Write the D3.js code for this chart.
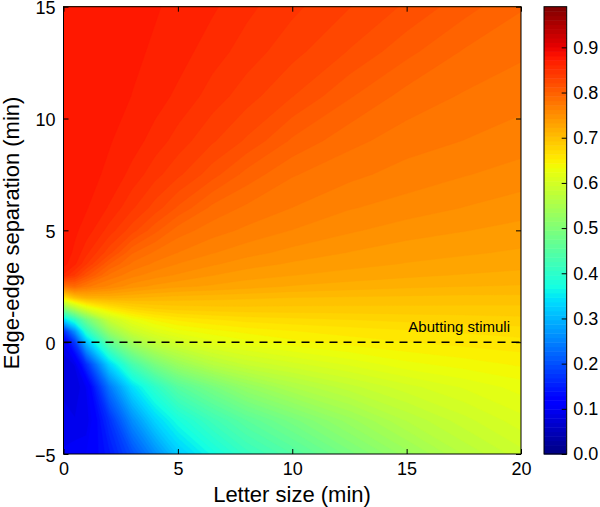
<!DOCTYPE html>
<html>
<head>
<meta charset="utf-8">
<script src="https://cdn.jsdelivr.net/npm/d3@7"></script>
<style>
  body { margin: 0; background: #fff; }
  text { font-family: "Liberation Sans", Arial, sans-serif; fill: #000; }
</style>
</head>
<body>
<div id="chart"></div>
<script>
// grid positions where the field was read (min)
var letterSize = [0, 0.5, 1, 2, 3, 4, 5, 6.5, 8, 10, 12.5, 15, 17.5, 20];
var separation = [-5, -3.5, -2, -1, 0, 0.5, 1, 1.5, 2, 2.5, 3, 3.5, 4, 5, 6, 7.5, 9, 11, 13, 15];

// values, one row per separation (bottom row first)
var values = [
  [0.10, 0.105, 0.11, 0.145, 0.20, 0.26, 0.32, 0.37, 0.41, 0.445, 0.49, 0.53, 0.565, 0.59],      // -5
  [0.095, 0.09, 0.09, 0.17, 0.26, 0.33, 0.375, 0.42, 0.455, 0.49, 0.53, 0.565, 0.59, 0.61],     // -3.5
  [0.085, 0.08, 0.10, 0.24, 0.34, 0.40, 0.45, 0.49, 0.525, 0.555, 0.58, 0.60, 0.615, 0.628],    // -2
  [0.08, 0.09, 0.17, 0.33, 0.43, 0.49, 0.53, 0.565, 0.585, 0.60, 0.615, 0.63, 0.638, 0.645],    // -1
  [0.10, 0.18, 0.31, 0.46, 0.54, 0.58, 0.60, 0.62, 0.63, 0.64, 0.648, 0.653, 0.657, 0.66],      // 0
  [0.17, 0.27, 0.40, 0.53, 0.59, 0.615, 0.63, 0.64, 0.647, 0.653, 0.658, 0.662, 0.665, 0.668],  // 0.5
  [0.33, 0.40, 0.48, 0.585, 0.625, 0.645, 0.655, 0.662, 0.667, 0.67, 0.673, 0.676, 0.678, 0.68],// 1
  [0.50, 0.56, 0.61, 0.655, 0.675, 0.683, 0.687, 0.689, 0.69, 0.69, 0.69, 0.69, 0.69, 0.69],    // 1.5
  [0.66, 0.70, 0.715, 0.717, 0.714, 0.711, 0.709, 0.707, 0.705, 0.703, 0.702, 0.701, 0.70, 0.70],// 2
  [0.78, 0.79, 0.775, 0.76, 0.747, 0.74, 0.735, 0.731, 0.727, 0.722, 0.718, 0.715, 0.713, 0.712],// 2.5
  [0.86, 0.84, 0.815, 0.78, 0.766, 0.757, 0.751, 0.743, 0.737, 0.733, 0.729, 0.725, 0.722, 0.719],// 3
  [0.875, 0.863, 0.842, 0.802, 0.78, 0.77, 0.762, 0.754, 0.747, 0.741, 0.736, 0.732, 0.729, 0.727],// 3.5
  [0.877, 0.869, 0.854, 0.825, 0.793, 0.78, 0.772, 0.763, 0.756, 0.749, 0.742, 0.737, 0.734, 0.731],// 4
  [0.878, 0.873, 0.867, 0.847, 0.826, 0.805, 0.787, 0.777, 0.77, 0.762, 0.754, 0.747, 0.743, 0.739],// 5
  [0.878, 0.876, 0.872, 0.86, 0.843, 0.827, 0.81, 0.789, 0.78, 0.772, 0.763, 0.758, 0.752, 0.747], // 6
  [0.879, 0.877, 0.875, 0.869, 0.858, 0.845, 0.834, 0.816, 0.798, 0.783, 0.775, 0.768, 0.763, 0.758],// 7.5
  [0.88, 0.878, 0.876, 0.872, 0.866, 0.857, 0.847, 0.833, 0.82, 0.80, 0.785, 0.777, 0.772, 0.767],  // 9
  [0.88, 0.878, 0.877, 0.875, 0.871, 0.866, 0.859, 0.847, 0.836, 0.822, 0.803, 0.788, 0.781, 0.776],// 11
  [0.88, 0.879, 0.878, 0.876, 0.873, 0.87, 0.866, 0.856, 0.847, 0.835, 0.821, 0.805, 0.791, 0.784], // 13
  [0.88, 0.879, 0.879, 0.877, 0.875, 0.872, 0.869, 0.863, 0.854, 0.844, 0.832, 0.82, 0.806, 0.793]  // 15
];

var xTicks = [0, 5, 10, 15, 20];
var yTicks = [-5, 0, 5, 10, 15];
var cbTicks = [0, 0.1, 0.2, 0.3, 0.4, 0.5, 0.6, 0.7, 0.8, 0.9];
var cbMax = 0.99;
var nLevels = 100;

var width = 600, height = 507;
var svg = d3.select("#chart").append("svg")
  .attr("width", width)
  .attr("height", height);

var x = d3.scaleLinear().domain([0, 20]).range([63.5, 521]);
var y = d3.scaleLinear().domain([-5, 15]).range([454, 6.7]);

// matplotlib "jet"
var jetR = d3.scaleLinear().domain([0, 0.35, 0.66, 0.89, 1]).range([0, 0, 1, 1, 0.5]).clamp(true);
var jetG = d3.scaleLinear().domain([0, 0.125, 0.375, 0.64, 0.91, 1]).range([0, 0, 1, 1, 0, 0]).clamp(true);
var jetB = d3.scaleLinear().domain([0, 0.11, 0.34, 0.65, 1]).range([0.5, 1, 1, 0, 0]).clamp(true);
function jet(t) { return d3.rgb(255 * jetR(t), 255 * jetG(t), 255 * jetB(t)).toString(); }

var levels = d3.range(nLevels + 1).map(function (i) { return cbMax * i / nLevels; });
function bandColor(i) { return jet((levels[i] + levels[i + 1]) / 2 / cbMax); }

// filled contours on the (non uniform) grid
var nx = letterSize.length, ny = separation.length;
var flat = [];
values.forEach(function (row) { row.forEach(function (v) { flat.push(v); }); });

var gx = d3.scaleLinear().domain(letterSize.map(function (d, i) { return i + 0.5; })).range(letterSize).clamp(true);
var gy = d3.scaleLinear().domain(separation.map(function (d, i) { return i + 0.5; })).range(separation).clamp(true);

var path = d3.geoPath(d3.geoTransform({
  point: function (px, py) { this.stream.point(x(gx(px)), y(gy(py))); }
}));

var contours = d3.contours().size([nx, ny]).thresholds(levels.slice(0, nLevels))(flat);

svg.append("clipPath").attr("id", "plotclip")
  .append("rect")
  .attr("x", x(0)).attr("y", y(15))
  .attr("width", x(20) - x(0)).attr("height", y(-5) - y(15));

var plot = svg.append("g").attr("clip-path", "url(#plotclip)");
plot.selectAll("path.band")
  .data(contours)
  .enter()
  .append("path")
  .attr("class", "band")
  .attr("d", path)
  .attr("fill", function (d, i) { return bandColor(i); })
  .attr("stroke", function (d, i) { return bandColor(i); })
  .attr("stroke-width", 0.4);

// abutting line
svg.append("line")
  .attr("x1", x(0)).attr("x2", x(20))
  .attr("y1", y(0)).attr("y2", y(0))
  .attr("stroke", "#000")
  .attr("stroke-width", 1.5)
  .attr("stroke-dasharray", "8,6");

svg.append("text")
  .attr("x", x(20) - 11)
  .attr("y", y(0) - 10.5)
  .attr("text-anchor", "end")
  .style("font-size", "15px")
  .text("Abutting stimuli");

// axes, ticks pointing in
var xAxis = svg.append("g")
  .attr("transform", "translate(0," + y(-5) + ")")
  .call(d3.axisBottom(x).tickValues(xTicks).tickSize(-5).tickPadding(8).tickFormat(d3.format("d")));
var yAxis = svg.append("g")
  .attr("transform", "translate(" + x(0) + ",0)")
  .call(d3.axisLeft(y).tickValues(yTicks).tickSize(-5).tickPadding(8).tickFormat(d3.format("d")));
var xTop = svg.append("g")
  .attr("transform", "translate(0," + y(15) + ")")
  .call(d3.axisTop(x).tickValues(xTicks).tickSize(-5).tickFormat(""));
var yRight = svg.append("g")
  .attr("transform", "translate(" + x(20) + ",0)")
  .call(d3.axisRight(y).tickValues(yTicks).tickSize(-5).tickFormat(""));

[xAxis, yAxis, xTop, yRight].forEach(function (g) {
  g.select(".domain").remove();
  g.selectAll("line").attr("stroke", "#000");
  g.selectAll("text").style("font-size", "18px").attr("fill", "#000").style("font-family", "'Liberation Sans', Arial, sans-serif");
});
yAxis.selectAll("text").attr("dy", "0.4em");

svg.append("rect")
  .attr("x", x(0)).attr("y", y(15))
  .attr("width", x(20) - x(0)).attr("height", y(-5) - y(15))
  .attr("fill", "none")
  .attr("stroke", "#000")
  .attr("stroke-width", 1);

// axis titles
svg.append("text")
  .attr("x", 292).attr("y", 502)
  .attr("text-anchor", "middle")
  .style("font-size", "22px")
  .text("Letter size (min)");

svg.append("text")
  .attr("transform", "translate(19,233) rotate(-90)")
  .attr("text-anchor", "middle")
  .style("font-size", "22px")
  .text("Edge-edge separation (min)");

// colorbar
var cbX = 544, cbW = 22.7;
var cb = d3.scaleLinear().domain([0, cbMax]).range([454, 6.7]);

svg.append("g").selectAll("rect")
  .data(d3.range(nLevels))
  .enter()
  .append("rect")
  .attr("x", cbX)
  .attr("width", cbW)
  .attr("y", function (i) { return cb(levels[i + 1]); })
  .attr("height", function (i) { return cb(levels[i]) - cb(levels[i + 1]) + 0.5; })
  .attr("fill", function (i) { return bandColor(i); });

svg.append("rect")
  .attr("x", cbX).attr("y", cb(cbMax))
  .attr("width", cbW).attr("height", cb(0) - cb(cbMax))
  .attr("fill", "none")
  .attr("stroke", "#000")
  .attr("stroke-width", 1);

var cbAxis = svg.append("g")
  .attr("transform", "translate(" + (cbX + cbW) + ",0)")
  .call(d3.axisRight(cb).tickValues(cbTicks).tickSize(-5).tickPadding(6.5).tickFormat(d3.format(".1f")));
cbAxis.select(".domain").remove();
cbAxis.selectAll("line").attr("stroke", "#000");
cbAxis.selectAll("text").style("font-size", "18px").attr("fill", "#000").style("font-family", "'Liberation Sans', Arial, sans-serif");
</script>
</body>
</html>
